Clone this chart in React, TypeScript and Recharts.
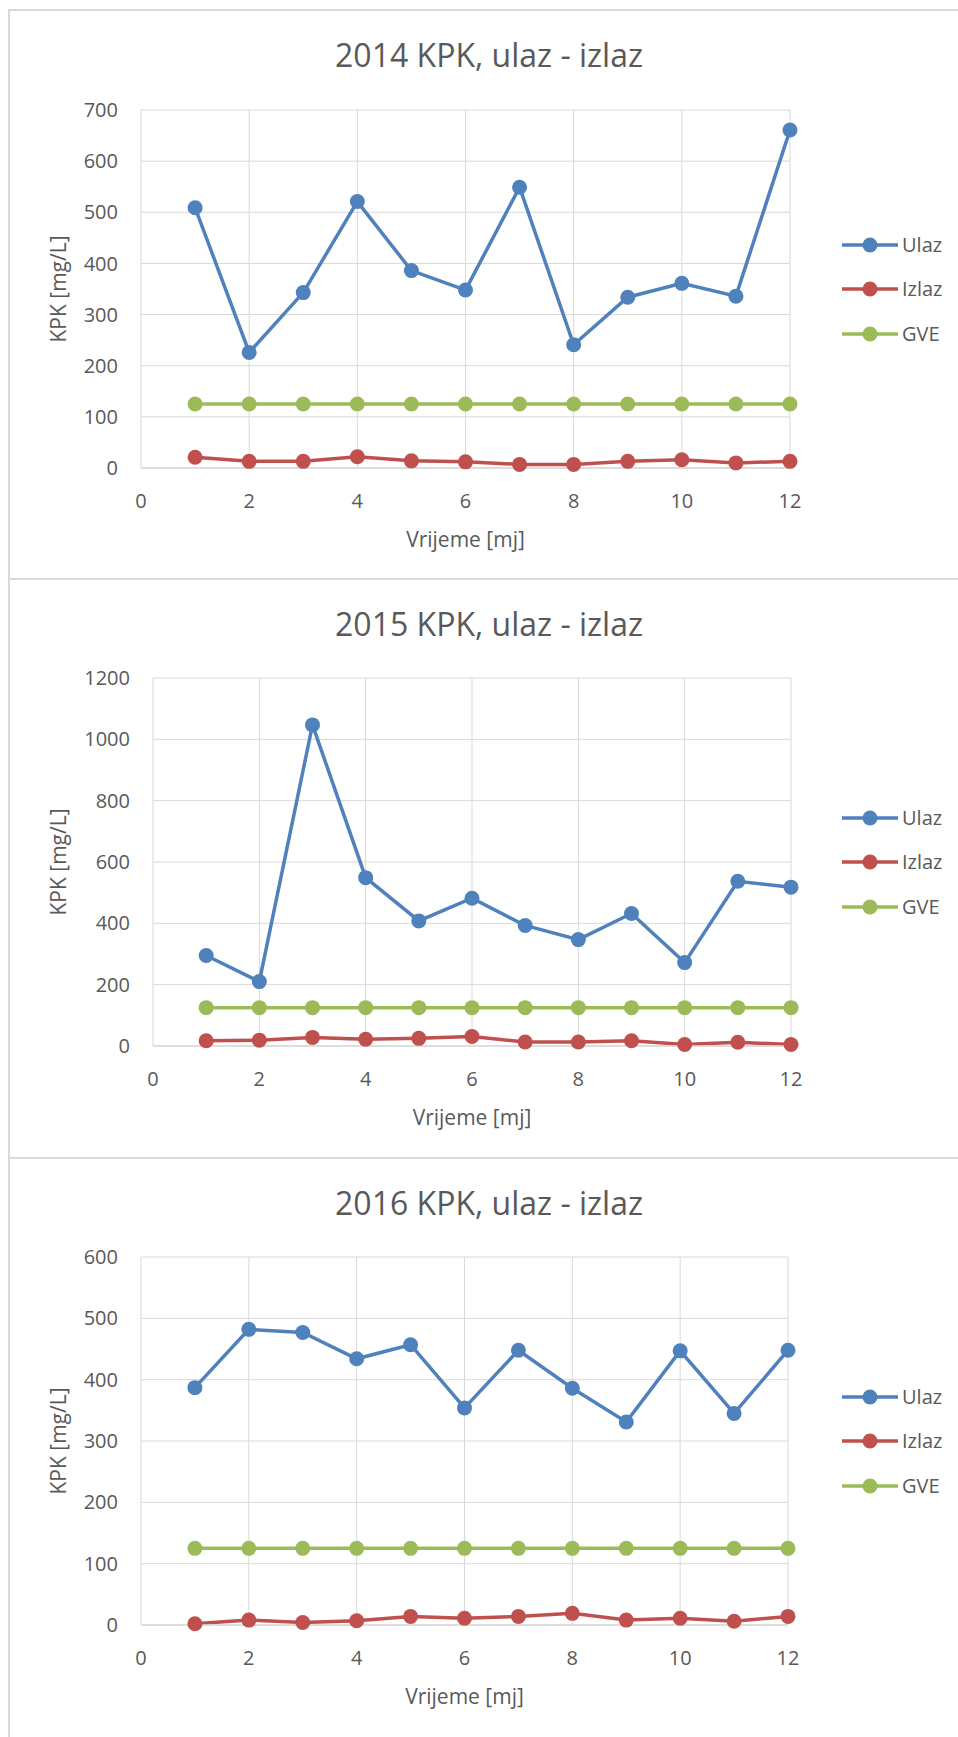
import React from 'react';
import { LineChart, Line, XAxis, YAxis, CartesianGrid, Legend, Label } from 'recharts';

const months = [1, 2, 3, 4, 5, 6, 7, 8, 9, 10, 11, 12];
const xTicks = [0, 2, 4, 6, 8, 10, 12];
const seriesNames = ['Ulaz', 'Izlaz', 'GVE'];
const seriesColors = ['#4f81bd', '#c0504d', '#9bbb59'];

const ulaz2014 = [509, 226, 343, 521, 386, 348, 549, 241, 334, 361, 336, 661];
const izlaz2014 = [21, 13, 13, 22, 14, 12, 7, 7, 13, 16, 10, 13];
const gve2014 = [125, 125, 125, 125, 125, 125, 125, 125, 125, 125, 125, 125];
const yTicks2014 = [0, 100, 200, 300, 400, 500, 600, 700];

const ulaz2015 = [295, 210, 1047, 549, 408, 482, 393, 347, 432, 272, 537, 518];
const izlaz2015 = [17, 19, 28, 22, 25, 31, 13, 13, 17, 5, 12, 5];
const gve2015 = [125, 125, 125, 125, 125, 125, 125, 125, 125, 125, 125, 125];
const yTicks2015 = [0, 200, 400, 600, 800, 1000, 1200];

const ulaz2016 = [387, 482, 477, 434, 457, 354, 448, 386, 331, 447, 345, 448];
const izlaz2016 = [2, 8, 4, 7, 14, 11, 14, 19, 8, 11, 6, 14];
const gve2016 = [125, 125, 125, 125, 125, 125, 125, 125, 125, 125, 125, 125];
const yTicks2016 = [0, 100, 200, 300, 400, 500, 600];

const TEXT = '#595959';
const GRID = '#d9d9d9';
const FONT = '"Open Sans", "Segoe UI", sans-serif';
const SVG_W = 950;
const X_AXIS_H = 90;

type PanelProps = {
  top: number;
  height: number; // content height, below the 2px top border
  title: string;
  ulaz: number[];
  izlaz: number[];
  gve: number[];
  yTicks: number[];
  plot: { left: number; right: number; top: number; bottom: number };
};

// legend in series order (recharts sorts by name otherwise)
const renderLegend = (props: any) => {
  const items = [...(props.payload || [])].sort(
    (a: any, b: any) => seriesNames.indexOf(a.value) - seriesNames.indexOf(b.value)
  );
  return (
    <div>
      {items.map((entry: any) => (
        <div key={entry.value} style={{ display: 'flex', alignItems: 'center', height: 44.5 }}>
          <svg width={56} height={16}>
            <line x1={0} y1={8} x2={56} y2={8} stroke={entry.color} strokeWidth={3.5} />
            <circle cx={28} cy={8} r={7.5} fill={entry.color} />
          </svg>
          <span style={{ marginLeft: 4, fontSize: 20, color: TEXT, lineHeight: '20px' }}>{entry.value}</span>
        </div>
      ))}
    </div>
  );
};

const Panel: React.FC<PanelProps> = ({ top, height, title, ulaz, izlaz, gve, yTicks, plot }) => {
  const data = months.map((m, i) => ({ mj: m, Ulaz: ulaz[i], Izlaz: izlaz[i], GVE: gve[i] }));
  const plotMid = (plot.top + plot.bottom) / 2;
  return (
    <div
      style={{
        position: 'absolute',
        left: 8,
        top,
        width: 970,
        height,
        borderTop: `2px solid ${GRID}`,
        borderLeft: `2px solid ${GRID}`,
        background: '#fff',
      }}
    >
      <div
        style={{
          position: 'absolute',
          left: 0,
          width: 958,
          top: 28,
          height: 32,
          lineHeight: '32px',
          fontSize: 32,
          color: TEXT,
          textAlign: 'center',
        }}
      >
        {title}
      </div>
      <div style={{ position: 'absolute', left: 0, top: 0 }}>
        <LineChart
          width={SVG_W}
          height={height}
          data={data}
          margin={{ top: plot.top, right: SVG_W - plot.right, left: 0, bottom: height - plot.bottom - X_AXIS_H }}
        >
          <CartesianGrid stroke={GRID} strokeWidth={1} />
          <XAxis
            dataKey="mj"
            type="number"
            domain={[0, 12]}
            ticks={xTicks}
            height={X_AXIS_H}
            tickSize={0}
            tickMargin={26}
            tickLine={false}
            axisLine={{ stroke: GRID, strokeWidth: 1.5 }}
            tick={{ fill: TEXT, fontSize: 20 }}
          >
            <Label value="Vrijeme [mj]" position="insideBottom" offset={11} fill={TEXT} fontSize={21} />
          </XAxis>
          <YAxis
            type="number"
            domain={[yTicks[0], yTicks[yTicks.length - 1]]}
            ticks={yTicks}
            width={plot.left}
            tickSize={0}
            tickMargin={23}
            tickLine={false}
            axisLine={false}
            tick={{ fill: TEXT, fontSize: 20 }}
          >
            <Label
              value="KPK [mg/L]"
              angle={-90}
              position="insideLeft"
              offset={49}
              fill={TEXT}
              fontSize={21}
              style={{ textAnchor: 'middle' }}
            />
          </YAxis>
          <Legend
            layout="vertical"
            align="center"
            verticalAlign="middle"
            wrapperStyle={{ left: 832, top: plotMid - 66.75, width: 118 }}
            content={renderLegend}
          />
          {seriesNames.map((name, i) => (
            <Line
              key={name}
              dataKey={name}
              stroke={seriesColors[i]}
              strokeWidth={3.5}
              dot={{ r: 7.5, fill: seriesColors[i], stroke: seriesColors[i], strokeWidth: 0 }}
              activeDot={false}
              isAnimationActive={false}
              name={name}
            />
          ))}
        </LineChart>
      </div>
    </div>
  );
};

export default function App() {
  return (
    <div style={{ position: 'relative', width: 958, height: 1737, overflow: 'hidden', fontFamily: FONT, background: '#fff' }}>
      <style>{`html,body{margin:0;padding:0;overflow:hidden;}`}</style>
      <Panel
        top={9}
        height={567}
        title="2014 KPK, ulaz - izlaz"
        ulaz={ulaz2014}
        izlaz={izlaz2014}
        gve={gve2014}
        yTicks={yTicks2014}
        plot={{ left: 131, right: 780, top: 99, bottom: 457 }}
      />
      <Panel
        top={578}
        height={577}
        title="2015 KPK, ulaz - izlaz"
        ulaz={ulaz2015}
        izlaz={izlaz2015}
        gve={gve2015}
        yTicks={yTicks2015}
        plot={{ left: 143, right: 781, top: 98, bottom: 466 }}
      />
      <Panel
        top={1157}
        height={578}
        title="2016 KPK, ulaz - izlaz"
        ulaz={ulaz2016}
        izlaz={izlaz2016}
        gve={gve2016}
        yTicks={yTicks2016}
        plot={{ left: 131, right: 778, top: 98, bottom: 466 }}
      />
    </div>
  );
}
